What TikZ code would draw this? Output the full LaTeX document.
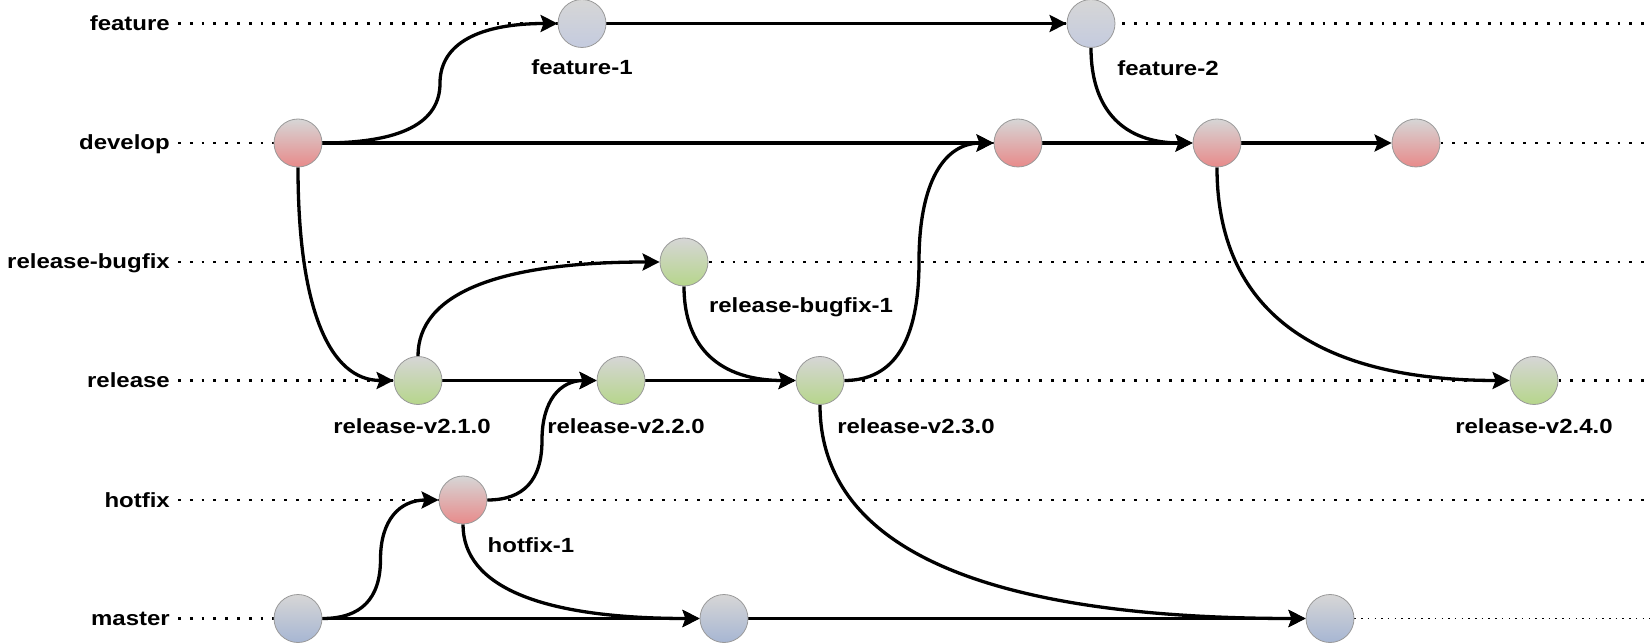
\documentclass[tikz,border=0pt]{standalone}
\usepackage{fontspec}
\setmainfont{Liberation Sans}[FakeStretch=1.17]
\usetikzlibrary{arrows.meta,calc}
\pgfdeclarelayer{bg}
\pgfsetlayers{bg,main}
\definecolor{topgray}{HTML}{D6D6D6}
\definecolor{cred}{HTML}{E88A8A}
\definecolor{cgreen}{HTML}{B6D68B}
\definecolor{cblue}{HTML}{A7B6D3}
\definecolor{cfeat}{HTML}{C4CBDF}
\definecolor{cborder}{HTML}{999999}
\tikzset{
  commit/.style={circle, minimum size=48pt, inner sep=0pt, draw=cborder, line width=0.8pt,
    top color=topgray, middle color=#1, bottom color=#1},
  lane/.style={line width=2.8pt, dash pattern=on 2.8pt off 9pt, black},
  finelane/.style={line width=1.5pt, dash pattern=on 1.5pt off 5.2pt, black},
  flow/.style={line width=3.3pt, black, -{Stealth[length=17pt,width=17pt,inset=3pt]}},
  lanelabel/.style={anchor=base east, font=\fontsize{20.5}{24}\selectfont\bfseries, inner sep=0pt},
  clabel/.style={anchor=base, font=\fontsize{20.5}{24}\selectfont\bfseries, inner sep=0pt},
  quad/.style={to path={.. controls ($(\tikztostart)!2/3!(#1)$) and ($(\tikztotarget)!2/3!(#1)$) .. (\tikztotarget)}}
}
\begin{document}
\begin{tikzpicture}[x=1pt,y=-1pt]
\useasboundingbox (0,0) rectangle (1650,644);
% lane labels
\node[lanelabel] (lf) at (170,30.5) {feature};
\node[lanelabel] (ld) at (170,150) {develop};
\node[lanelabel] (lb) at (170,269) {release-bugfix};
\node[lanelabel] (lr) at (170,387.5) {release};
\node[lanelabel] (lh) at (170,507) {hotfix};
\node[lanelabel] (lm) at (170,625.5) {master};
% commits
\node[commit=cfeat] (f1) at (582,23.5) {};
\node[commit=cfeat] (f2) at (1091,23.5) {};
\node[commit=cred] (d0) at (298,143) {};
\node[commit=cred] (d1) at (1018,143) {};
\node[commit=cred] (d2) at (1217,143) {};
\node[commit=cred] (d3) at (1416,143) {};
\node[commit=cgreen] (b1) at (684,262) {};
\node[commit=cgreen] (r1) at (418,380.5) {};
\node[commit=cgreen] (r2) at (621,380.5) {};
\node[commit=cgreen] (r3) at (820,380.5) {};
\node[commit=cgreen] (r4) at (1534,380.5) {};
\node[commit=cred] (h1) at (463,500) {};
\node[commit=cblue] (m0) at (298,618.5) {};
\node[commit=cblue] (m1) at (724,618.5) {};
\node[commit=cblue] (m2) at (1330,618.5) {};
% commit labels
\node[clabel] (tf1) at (582,75) {feature-1};
\node[clabel] (tf2) at (1168,76) {feature-2};
\node[clabel] (tb1) at (801,313) {release-bugfix-1};
\node[clabel] (tr1) at (412,433) {release-v2.1.0};
\node[clabel] (tr2) at (626,433) {release-v2.2.0};
\node[clabel] (tr3) at (916,433) {release-v2.3.0};
\node[clabel] (tr4) at (1534,433) {release-v2.4.0};
\node[clabel] (th1) at (531,552) {hotfix-1};
% lane end points
\coordinate (ef) at (1650,23.5);
\coordinate (ed) at (1650,143);
\coordinate (eb) at (1650,262);
\coordinate (er) at (1650,380.5);
\coordinate (eh) at (1650,500);
\coordinate (em) at (1650,618.5);
\begin{pgfonlayer}{bg}
% dotted lanes
\draw[lane] (178,23.5) -- (ef);
\draw[lane] (178,143) -- (ed);
\draw[lane] (178,262) -- (eb);
\draw[lane] (178,380.5) -- (er);
\draw[lane] (178,500) -- (eh);
\draw[lane] (178,618.5) -- (m0.west);
\draw[finelane] (m2.east) -- (em);
% connectors
\draw[flow] (d0.east) to[quad={440,143}] (440,83.25) to[quad={440,23.5}] (f1.west);
\draw[flow] (f1.east) -- (f2.west);
\draw[flow] (f2.south) to[quad={1091,143}] (d2.west);
\draw[flow] (d0.east) -- (d1.west);
\draw[flow] (d1.east) -- (d2.west);
\draw[flow] (d2.east) -- (d3.west);
\draw[flow] (d0.south) to[quad={298,380.5}] (r1.west);
\draw[flow] (r1.north) to[quad={418,262}] (b1.west);
\draw[flow] (r1.east) -- (r2.west);
\draw[flow] (r2.east) -- (r3.west);
\draw[flow] (b1.south) to[quad={684,380.5}] (r3.west);
\draw[flow] (r3.east) to[quad={919,380.5}] (919,261.75) to[quad={919,143}] (d1.west);
\draw[flow] (r3.south) to[quad={820,618.5}] (m2.west);
\draw[flow] (d2.south) to[quad={1217,380.5}] (r4.west);
\draw[flow] (m0.east) to[quad={380.5,618.5}] (380.5,559.25) to[quad={380.5,500}] (h1.west);
\draw[flow] (m0.east) -- (m1.west);
\draw[flow] (m1.east) -- (m2.west);
\draw[flow] (h1.east) to[quad={542,500}] (542,440.25) to[quad={542,380.5}] (r2.west);
\draw[flow] (h1.south) to[quad={463,618.5}] (m1.west);
\end{pgfonlayer}
\end{tikzpicture}
\end{document}
